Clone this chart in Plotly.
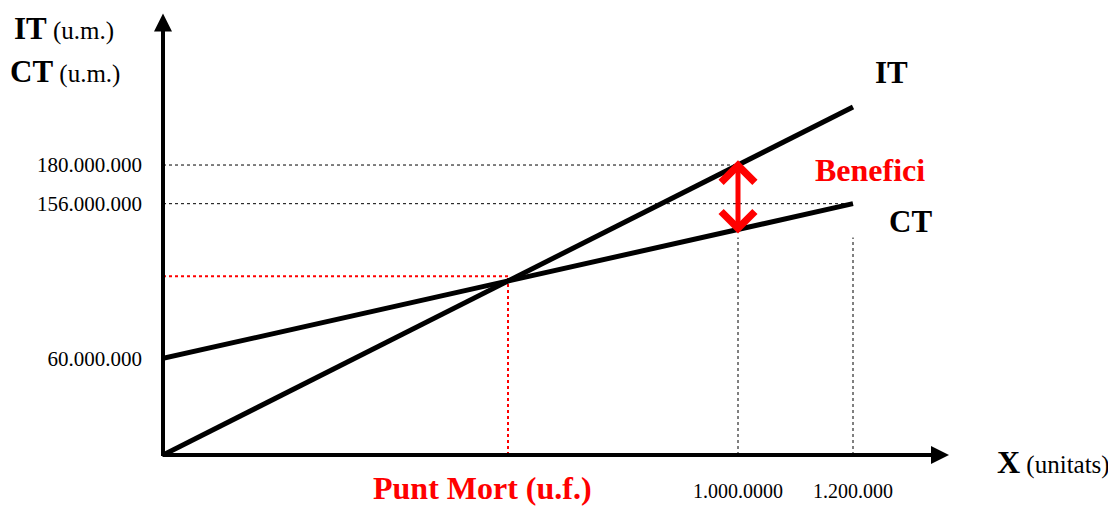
import plotly.graph_objects as go

# ---- data (units, u.m.) ----
units = [0, 1_200_000]                      # drawn range of production
price = 180                                 # IT per unit
fixed_cost = 60_000_000
var_cost = 80
it_vals = [price * u for u in units]        # IT line
ct_vals = [fixed_cost + var_cost * u for u in units]  # CT line

y_tick_vals = [60_000_000, 156_000_000, 180_000_000]
y_tick_text = ["60.000.000", "156.000.000", "180.000.000"]
x_tick_vals = [1_000_000, 1_200_000]
x_tick_text = ["1.000.0000", "1.200.000"]

pm_x = 600_000          # punt mort (units)
pm_y = 111_000_000      # red guide level as drawn
guide_top = 135_000_000 # top of black vertical guides
benefit_x = 1_000_000
benefit_top = 183_000_000     # arrow tips as drawn
benefit_bottom = 136_500_000

x_axis_end = 1_367_000
y_axis_end = 274_000_000

# ---- figure geometry (page body has an 8px margin) ----
OFF = 8
W, H = 1116 - OFF, 508 - OFF
L = 163 - OFF
PLOT_BOTTOM = 455 - OFF
B = H - PLOT_BOTTOM
PX_PER_UNIT = 575 / 1_000_000
PX_PER_UM = 1.611 / 1_000_000
x_max = (W - L) / PX_PER_UNIT
y_max = PLOT_BOTTOM / PX_PER_UM

def xp(px):
    return (px - OFF - L) / (W - L)

def yp(py):
    return (PLOT_BOTTOM - (py - OFF)) / PLOT_BOTTOM

FONT = "Liberation Serif, Times New Roman, serif"

fig = go.Figure()

# guide lines
fig.add_trace(go.Scatter(x=[0, x_tick_vals[0]], y=[y_tick_vals[2]] * 2, mode="lines",
                         line=dict(color="black", width=1, dash="dot"), hoverinfo="skip"))
fig.add_trace(go.Scatter(x=[0, x_tick_vals[1]], y=[y_tick_vals[1]] * 2, mode="lines",
                         line=dict(color="black", width=1, dash="dot"), hoverinfo="skip"))
for xv in x_tick_vals:
    fig.add_trace(go.Scatter(x=[xv, xv], y=[0, guide_top], mode="lines",
                             line=dict(color="black", width=1, dash="dot"), hoverinfo="skip"))
fig.add_trace(go.Scatter(x=[0, pm_x], y=[pm_y, pm_y], mode="lines",
                         line=dict(color="red", width=2, dash="dot"), hoverinfo="skip"))
fig.add_trace(go.Scatter(x=[pm_x, pm_x], y=[0, pm_y], mode="lines",
                         line=dict(color="red", width=2, dash="dot"), hoverinfo="skip"))

# IT and CT
fig.add_trace(go.Scatter(x=units, y=it_vals, mode="lines", name="IT",
                         line=dict(color="black", width=5)))
fig.add_trace(go.Scatter(x=units, y=ct_vals, mode="lines", name="CT",
                         line=dict(color="black", width=5)))

annotations = []
# axes with arrows
annotations.append(dict(x=0, y=y_axis_end, ax=0, ay=-1_500_000, xref="x", yref="y",
                        axref="x", ayref="y", text="", showarrow=True, arrowhead=2,
                        arrowsize=0.9, arrowwidth=4, arrowcolor="black", standoff=0))
annotations.append(dict(x=x_axis_end, y=0, ax=-3_500, ay=0, xref="x", yref="y",
                        axref="x", ayref="y", text="", showarrow=True, arrowhead=2,
                        arrowsize=0.9, arrowwidth=4, arrowcolor="black", standoff=0))
# benefit arrow
annotations.append(dict(x=benefit_x, y=benefit_top, ax=benefit_x, ay=benefit_bottom,
                        xref="x", yref="y", axref="x", ayref="y", text="", showarrow=True,
                        arrowhead=4, startarrowhead=4, arrowside="end+start",
                        arrowsize=1.3, startarrowsize=1.3, arrowwidth=5, arrowcolor="red",
                        standoff=0, startstandoff=0))

def txt(text, px, py, size, color="black", anchor="center"):
    annotations.append(dict(text=text, x=xp(px), y=yp(py), xref="paper", yref="paper",
                            showarrow=False, xanchor=anchor, yanchor="middle",
                            font=dict(family=FONT, size=size, color=color)))

txt("<span style='font-size:31px'><b>IT</b></span> (u.m.)", 12, 28, 25, anchor="left")
txt("<span style='font-size:31px'><b>CT</b></span> (u.m.)", 8, 71, 25, anchor="left")
txt("<b>IT</b>", 891, 73, 31)
txt("<b>CT</b>", 910, 221, 31)
txt("<b>Benefici</b>", 870, 170, 32, color="red")
txt("<b>Punt Mort (u.f.)</b>", 482, 488, 32, color="red")
txt("<span style='font-size:32px'><b>X</b></span> (unitats)", 995, 462, 25, anchor="left")

fig.update_layout(
    width=W, height=H,
    margin=dict(l=L, r=0, t=0, b=B),
    paper_bgcolor="white", plot_bgcolor="white",
    showlegend=False,
    annotations=annotations,
    xaxis=dict(range=[0, x_max], showgrid=False, zeroline=False, showline=False,
               tickvals=x_tick_vals, ticktext=x_tick_text, ticks="",
               ticklabelstandoff=22,
               tickfont=dict(family=FONT, size=20, color="black")),
    yaxis=dict(range=[0, y_max], showgrid=False, zeroline=False, showline=False,
               tickvals=y_tick_vals, ticktext=y_tick_text, ticks="",
               ticklabelstandoff=20,
               tickfont=dict(family=FONT, size=21, color="black")),
)

fig.write_html("out.html")
